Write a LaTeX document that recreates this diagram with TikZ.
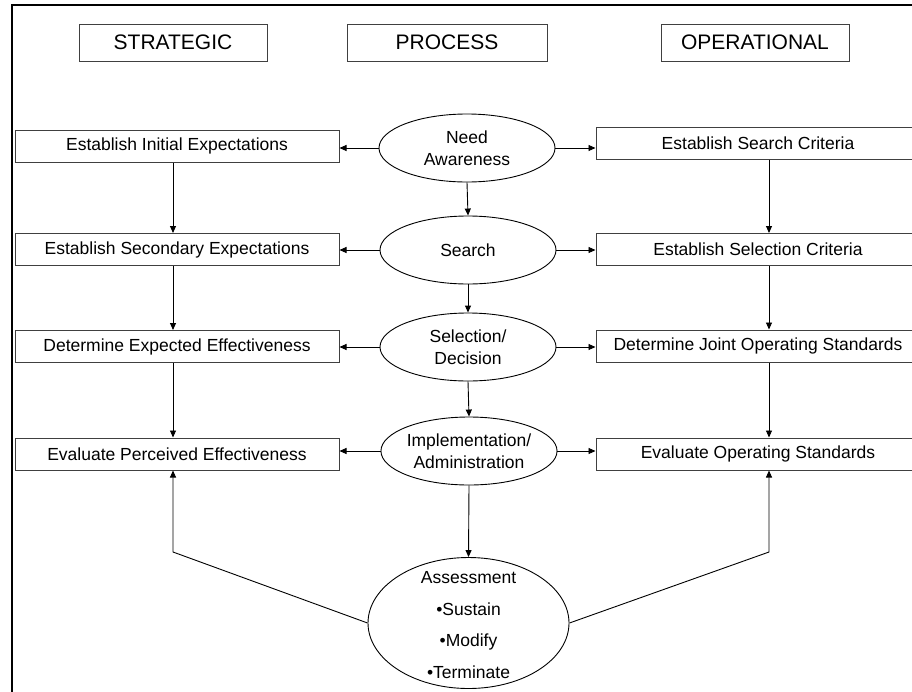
\documentclass[tikz,border=0pt]{standalone}
\usepackage{fontspec}
\setmainfont{Liberation Sans}
\usetikzlibrary{shapes.geometric,arrows.meta}
\begin{document}
\begin{tikzpicture}[x=1pt,y=-1pt,
  hdr/.style={draw=black!75, line width=1pt, minimum width=188pt, minimum height=37pt,
    inner sep=0pt, font=\fontsize{21}{25}\selectfont},
  sbox/.style={draw=black!75, line width=1pt, minimum width=324pt, minimum height=32pt,
    inner sep=0pt, font=\fontsize{17.5}{21}\selectfont},
  proc/.style={ellipse, draw=black, line width=0.9pt, minimum width=176pt, minimum height=68pt,
    inner sep=0pt, align=center, font=\fontsize{17.5}{21.5}\selectfont},
  link/.style={draw=black, line width=0.9pt, -{Triangle[length=7pt,width=6pt]}},
  plain/.style={draw=black, line width=0.9pt}]

\useasboundingbox (0,0) rectangle (912,691);

% frame
\draw[line width=2.5pt] (12,692) -- (12,5) -- (913,5);

% column headings
\node[hdr] (hs) at (173,42.5) {STRATEGIC};
\node[hdr, minimum width=200pt] (hp) at (447,42.5) {PROCESS};
\node[hdr] (ho) at (755,42.5) {OPERATIONAL};

% strategic column
\node[sbox] (s1) at (177,146) {Establish Initial Expectations};
\node[sbox] (s2) at (177,249.5) {Establish Secondary Expectations};
\node[sbox] (s3) at (177,346.5) {Determine Expected Effectiveness};
\node[sbox] (s4) at (177,454) {Evaluate Perceived Effectiveness};

% operational column
\node[sbox] (o1) at (758,143) {Establish Search Criteria};
\node[sbox] (o2) at (758,249.5) {Establish Selection Criteria};
\node[sbox] (o3) at (758,346) {Determine Joint Operating Standards};
\node[sbox] (o4) at (758,454) {Evaluate Operating Standards};

% process column
\node[proc] (p1) at (467,148) {Need\\Awareness};
\node[proc] (p2) at (468,250) {Search};
\node[proc] (p3) at (468,347) {Selection/\\Decision};
\node[proc] (p4) at (469,451) {Implementation/\\Administration};
\node[ellipse, draw=black, line width=0.9pt, minimum width=201pt, minimum height=131pt,
  inner sep=0pt] (p5) at (468.5,623) {};
\node[align=center, inner sep=0pt, font=\fontsize{17.5}{31.5}\selectfont] (p5t) at (468.5,625)
  {Assessment\\•Sustain\\•Modify\\•Terminate};

% process flow
\draw[link] (p1.south) -- (p2.north);
\draw[link] (p2.south) -- (p3.north);
\draw[link] (p3.south) -- (p4.north);
\draw[link] (p4.south) -- (p5.north);

% process to both sides
\foreach \p/\s/\o in {p1/s1/o1, p2/s2/o2, p3/s3/o3, p4/s4/o4}{
  \draw[link] (\p.west) -- (\p.west -| \s.east);
  \draw[link] (\p.east) -- (\p.east -| \o.west);
}

% strategic and operational flow
\foreach \a/\b in {s1/s2, s2/s3, s3/s4}{
  \draw[link] ([xshift=-4pt]\a.south) -- ([xshift=-4pt]\b.north);
}
\foreach \a/\b in {o1/o2, o2/o3, o3/o4}{
  \draw[link] ([xshift=11pt]\a.south) -- ([xshift=11pt]\b.north);
}

% feedback from assessment
\coordinate (lk) at (173,552);
\coordinate (rk) at (769,552);
\draw[link] (p5.west) -- (lk) -- ([xshift=-4pt]s4.south);
\draw[link] (p5.east) -- (rk) -- ([xshift=11pt]o4.south);
\end{tikzpicture}
\end{document}
